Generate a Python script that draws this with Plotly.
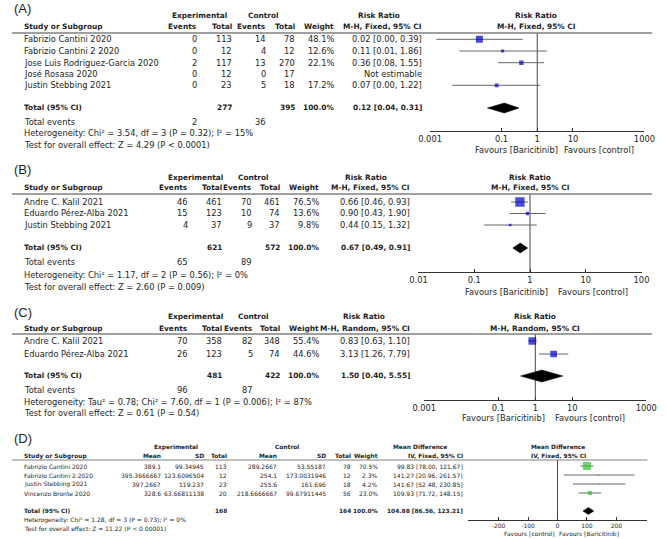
import plotly.graph_objects as go

W, H = 667, 539

# ---------------- DATA ----------------
# (A) Risk ratio, M-H fixed
A_STUDY = ["Fabrizio Cantini 2020", "Fabrizio Cantini 2 2020", "Jose Luis Rodriguez-Garcia 2020",
           "José Rosasa 2020", "Justin Stebbing 2021"]
A_EXP_EV = [0, 0, 2, 0, 0]
A_EXP_N = [113, 12, 117, 12, 23]
A_CTL_EV = [14, 4, 13, 0, 5]
A_CTL_N = [78, 12, 270, 17, 18]
A_WEIGHT = [48.1, 12.6, 22.1, None, 17.2]
A_EST = [0.024, 0.107, 0.36, None, 0.073]
A_LO = [0.0015, 0.0066, 0.08, None, 0.0042]
A_HI = [0.39, 1.86, 1.55, None, 1.22]
A_TOTAL = dict(exp_n=277, ctl_n=395, exp_ev=2, ctl_ev=36, est=0.12, lo=0.04, hi=0.31)
A_HET = "Heterogeneity: Chi² = 3.54, df = 3 (P = 0.32); I² = 15%"
A_TEST = "Test for overall effect: Z = 4.29 (P < 0.0001)"
A_TICKS = [0.001, 0.1, 1, 10, 1000]
A_TICKTEXT = ["0.001", "0.1", "1", "10", "1000"]

# (B) Risk ratio, M-H fixed
B_STUDY = ["Andre C. Kalil 2021", "Eduardo Pérez-Alba 2021", "Justin Stebbing 2021"]
B_EXP_EV = [46, 15, 4]
B_EXP_N = [461, 123, 37]
B_CTL_EV = [70, 10, 9]
B_CTL_N = [461, 74, 37]
B_WEIGHT = [76.5, 13.6, 9.8]
B_EST = [0.66, 0.90, 0.44]
B_LO = [0.46, 0.43, 0.15]
B_HI = [0.93, 1.90, 1.32]
B_TOTAL = dict(exp_n=621, ctl_n=572, exp_ev=65, ctl_ev=89, est=0.67, lo=0.49, hi=0.91)
B_HET = "Heterogeneity: Chi² = 1.17, df = 2 (P = 0.56); I² = 0%"
B_TEST = "Test for overall effect: Z = 2.60 (P = 0.009)"
B_TICKS = [0.01, 0.1, 1, 10, 100]
B_TICKTEXT = ["0.01", "0.1", "1", "10", "100"]

# (C) Risk ratio, M-H random
C_STUDY = ["Andre C. Kalil 2021", "Eduardo Pérez-Alba 2021"]
C_EXP_EV = [70, 26]
C_EXP_N = [358, 123]
C_CTL_EV = [82, 5]
C_CTL_N = [348, 74]
C_WEIGHT = [55.4, 44.6]
C_EST = [0.83, 3.13]
C_LO = [0.63, 1.26]
C_HI = [1.10, 7.79]
C_TOTAL = dict(exp_n=481, ctl_n=422, exp_ev=96, ctl_ev=87, est=1.50, lo=0.40, hi=5.55)
C_HET = "Heterogeneity: Tau² = 0.78; Chi² = 7.60, df = 1 (P = 0.006); I² = 87%"
C_TEST = "Test for overall effect: Z = 0.61 (P = 0.54)"
C_TICKS = [0.001, 0.1, 1, 10, 1000]
C_TICKTEXT = ["0.001", "0.1", "1", "10", "1000"]

# (D) Mean difference, IV fixed
D_STUDY = ["Fabrizio Cantini 2020", "Fabrizio Cantini 2 2020", "Justin Stebbing 2021", "Vincenzo Bronte 2020"]
D_EXP_MEAN = [389.1, 395.3666667, 397.2667, 328.6]
D_EXP_SD = [99.34945, 123.6096504, 119.237, 63.66811138]
D_EXP_N = [113, 12, 23, 20]
D_CTL_MEAN = [289.2667, 254.1, 255.6, 218.6666667]
D_CTL_SD = [53.55187, 173.0031946, 161.696, 99.67911445]
D_CTL_N = [78, 12, 18, 56]
D_WEIGHT = [70.5, 2.3, 4.2, 23.0]
D_EST = [99.83, 141.27, 141.67, 109.93]
D_LO = [78.00, 20.96, 52.48, 71.72]
D_HI = [121.67, 261.57, 230.85, 148.15]
D_TOTAL = dict(exp_n=168, ctl_n=164, est=104.88, lo=86.56, hi=123.21)
D_HET = "Heterogeneity: Chi² = 1.28, df = 3 (P = 0.73); I² = 0%"
D_TEST = "Test for overall effect: Z = 11.22 (P < 0.00001)"
D_TICKS = [-200, -100, 0, 100, 200]
D_TICKTEXT = ["-200", "-100", "0", "100", "200"]

# ---------------- STYLE / LAYOUT ----------------
FONT = "DejaVu Sans"
LABFONT = "Liberation Sans"
TXT = "#1e1e1e"
BLUE = "#0000cc"
GREEN = "#2cc42c"
CIGRAY = "#666666"
REF = "#444444"
FS = 8.3      # regular text, panels A-C
FSB = 7.4     # bold text, panels A-C
FD = 6.0      # regular text, panel D
FDB = 5.9     # bold text, panel D

annotations, shapes, traces = [], [], []


def T(x, y, s, anchor="left", size=FS, bold=False, family=FONT, color=TXT):
    if bold:
        s = f"<b>{s}</b>"
    annotations.append(dict(x=x / W, y=1 - y / H, xref="paper", yref="paper", text=s,
                            showarrow=False, xanchor=anchor, yanchor="middle",
                            borderpad=0, borderwidth=0,
                            font=dict(family=family, size=size, color=color)))


def hline(y, x0, x1, color="#808080", width=1.3):
    shapes.append(dict(type="line", xref="paper", yref="paper", x0=x0 / W, x1=x1 / W,
                       y0=1 - y / H, y1=1 - y / H, line=dict(color=color, width=width)))


def forest(ax, ys, est, lo, hi, wt, tot, ytot, dh, color, ref, yline, yaxis_pos, sfac):
    cx, cy = [], []
    mx, my, ms = [], [], []
    for y, e, l, h, w in zip(ys, est, lo, hi, wt):
        if e is None:
            continue
        cx += [l, h, None]
        cy += [y, y, None]
        mx.append(e)
        my.append(y)
        ms.append(max(1.4, sfac * w ** 0.6))
    traces.append(go.Scatter(x=[ref, ref], y=[yline, yaxis_pos], mode="lines", xaxis=ax, yaxis="y",
                             line=dict(color=REF, width=1), hoverinfo="skip"))
    traces.append(go.Scatter(x=cx, y=cy, mode="lines", xaxis=ax, yaxis="y",
                             line=dict(color=CIGRAY, width=1), hoverinfo="skip"))
    traces.append(go.Scatter(x=mx, y=my, mode="markers", xaxis=ax, yaxis="y",
                             marker=dict(symbol="square", size=ms, color=color, line=dict(width=0))))
    traces.append(go.Scatter(x=[tot["lo"], tot["est"], tot["hi"], tot["est"], tot["lo"]],
                             y=[ytot, ytot - dh, ytot, ytot + dh, ytot], mode="lines", fill="toself",
                             fillcolor="black", line=dict(color="black", width=0.5),
                             xaxis=ax, yaxis="y", hoverinfo="skip"))


def xaxis(dom, rng, typ, tv, tt, ypos, fs):
    return dict(domain=[dom[0] / W, dom[1] / W], range=rng, type=typ, anchor="free",
                position=1 - ypos / H, showgrid=False, zeroline=False, showline=True,
                linecolor="#333333", linewidth=1, ticks="inside", ticklen=3, tickcolor="#333333",
                tickvals=tv, ticktext=tt, tickfont=dict(family=FONT, size=fs, color=TXT),
                fixedrange=True)


def rr_panel(label, g, study, eev, en, cev, cn, wt, est, lo, hi, tot, het, test, method,
             ax, ticks, ticktext, rng):
    T(2, g["lab"], label, size=13, family=LABFONT)
    T(g["exp_c"], g["h1"], "Experimental", "center", size=FSB, bold=True)
    T(g["ctl_c"], g["h1"], "Control", "center", size=FSB, bold=True)
    T(g["rr_c"], g["h1"], "Risk Ratio", "center", size=FSB, bold=True)
    T(g["plot_c"], g["h1"], "Risk Ratio", "center", size=FSB, bold=True)
    T(12, g["h2"], "Study or Subgroup", size=FSB, bold=True)
    for x, s in zip(g["c"], ["Events", "Total", "Events", "Total", "Weight", method]):
        T(x, g["h2"], s, "right", size=FSB, bold=True)
    T(g["plot_c"], g["h2"], method, "center", size=FSB, bold=True)
    hline(g["line"], 0, 663)
    for i, y in enumerate(g["rows"]):
        T(12, y, study[i])
        T(g["c"][0], y, str(eev[i]), "right")
        T(g["c"][1], y, str(en[i]), "right")
        T(g["c"][2], y, str(cev[i]), "right")
        T(g["c"][3], y, str(cn[i]), "right")
        if wt[i] is not None:
            T(g["c"][4], y, f"{wt[i]:.1f}%", "right")
            T(g["c"][5], y, f"{est[i]:.2f} [{lo[i]:.2f}, {hi[i]:.2f}]", "right")
        else:
            T(g["c"][5], y, "Not estimable", "right")
    yt = g["tot"]
    T(12, yt, "Total (95% CI)", size=FSB, bold=True)
    T(g["c"][1], yt, str(tot["exp_n"]), "right", size=FSB, bold=True)
    T(g["c"][3], yt, str(tot["ctl_n"]), "right", size=FSB, bold=True)
    T(g["c"][4], yt, "100.0%", "right", size=FSB, bold=True)
    T(g["c"][5], yt, f"{tot['est']:.2f} [{tot['lo']:.2f}, {tot['hi']:.2f}]", "right", size=FSB, bold=True)
    T(12, g["tev"], "Total events")
    T(g["c"][0], g["tev"], str(tot["exp_ev"]), "right")
    T(g["c"][2], g["tev"], str(tot["ctl_ev"]), "right")
    T(12, g["het"], het)
    T(12, g["test"], test)
    T(g["fav"][1], g["fav"][0], "Favours [Baricitinib]", "right")
    T(g["fav"][2], g["fav"][0], "Favours [control]", "left")
    forest(ax, g["rows"], est, lo, hi, wt, tot, g["tot"] + 1, g["dh"], BLUE, 1, g["line"], g["axis"], 0.69)
    return xaxis(g["dom"], rng, "log", ticks, ticktext, g["axis"], FS)


GA = dict(lab=8, h1=15, h2=27, line=33, rows=[39.3, 51, 62.7, 74, 85.3], tot=107, tev=122, het=133,
          test=145, c=[192, 228, 263, 293, 333, 425], exp_c=194, ctl_c=260, rr_c=380, plot_c=543,
          axis=131, fav=(150, 566, 572), dom=(433, 655), dh=5)
GB = dict(lab=170, h1=177, h2=188, line=194, rows=[202, 213.5, 225], tot=247, tev=262, het=275,
          test=287, c=[182, 217, 249, 278, 318, 412], exp_c=190, ctl_c=250, rr_c=367, plot_c=537,
          axis=272, fav=(292, 555, 565), dom=(421, 652), dh=5)
GC = dict(lab=312, h1=316, h2=328, line=334, rows=[341, 354], tot=375, tev=390, het=402,
          test=413, c=[182, 217, 250, 278, 318, 412], exp_c=190, ctl_c=250, rr_c=365, plot_c=542,
          axis=400, fav=(418, 552, 562), dom=(427, 657), dh=6)

xa = rr_panel("(A)", GA, A_STUDY, A_EXP_EV, A_EXP_N, A_CTL_EV, A_CTL_N, A_WEIGHT, A_EST, A_LO, A_HI,
              A_TOTAL, A_HET, A_TEST, "M-H, Fixed, 95% CI", "x", A_TICKS, A_TICKTEXT, [-3, 3])
xb = rr_panel("(B)", GB, B_STUDY, B_EXP_EV, B_EXP_N, B_CTL_EV, B_CTL_N, B_WEIGHT, B_EST, B_LO, B_HI,
              B_TOTAL, B_HET, B_TEST, "M-H, Fixed, 95% CI", "x2", B_TICKS, B_TICKTEXT, [-2, 2])
xc = rr_panel("(C)", GC, C_STUDY, C_EXP_EV, C_EXP_N, C_CTL_EV, C_CTL_N, C_WEIGHT, C_EST, C_LO, C_HI,
              C_TOTAL, C_HET, C_TEST, "M-H, Random, 95% CI", "x3", C_TICKS, C_TICKTEXT, [-3, 3])

# ---- Panel D ----
GD = dict(lab=438, h1=447, h2=456, line=460, rows=[466, 475, 484, 493], tot=511, het=520, test=528,
          c=[154.5, 199, 223, 274, 325, 351, 379, 467], axis=520, dom=(472, 658))
T(2, GD["lab"], "(D)", size=13, family=LABFONT)
T(170, GD["h1"], "Experimental", "center", size=FDB, bold=True)
T(285, GD["h1"], "Control", "center", size=FDB, bold=True)
T(423, GD["h1"], "Mean Difference", "center", size=FDB, bold=True)
T(566, GD["h1"], "Mean Difference", "center", size=FDB, bold=True)
T(12, GD["h2"], "Study or Subgroup", size=FDB, bold=True)
for x, s in zip(GD["c"], ["Mean", "SD", "Total", "Mean", "SD", "Total", "Weight", "IV, Fixed, 95% CI"]):
    T(x, GD["h2"], s, "right", size=FDB, bold=True)
T(566, GD["h2"], "IV, Fixed, 95% CI", "center", size=FDB, bold=True)
hline(GD["line"], 0, 658, width=1)
for i, y in enumerate(GD["rows"]):
    T(12, y, D_STUDY[i], size=FD)
    vals = [str(D_EXP_MEAN[i]), str(D_EXP_SD[i]), str(D_EXP_N[i]), str(D_CTL_MEAN[i]),
            str(D_CTL_SD[i]), str(D_CTL_N[i]), f"{D_WEIGHT[i]:.1f}%",
            f"{D_EST[i]:.2f} [{D_LO[i]:.2f}, {D_HI[i]:.2f}]"]
    for x, s in zip(GD["c"], vals):
        T(x, y, s, "right", size=FD)
T(12, GD["tot"], "Total (95% CI)", size=FDB, bold=True)
T(GD["c"][2], GD["tot"], str(D_TOTAL["exp_n"]), "right", size=FDB, bold=True)
T(GD["c"][5], GD["tot"], str(D_TOTAL["ctl_n"]), "right", size=FDB, bold=True)
T(GD["c"][6], GD["tot"], "100.0%", "right", size=FDB, bold=True)
T(GD["c"][7], GD["tot"], f"{D_TOTAL['est']:.2f} [{D_TOTAL['lo']:.2f}, {D_TOTAL['hi']:.2f}]", "right",
  size=FDB, bold=True)
T(12, GD["het"], D_HET, size=FD)
T(12, GD["test"], D_TEST, size=FD)
T(562, 533, "Favours [control]", "right", size=FD)
T(567, 533, "Favours [Baricitinib]", "left", size=FD)
forest("x4", GD["rows"], D_EST, D_LO, D_HI, D_WEIGHT, D_TOTAL, GD["tot"], 3.5, GREEN, 0,
       GD["line"], GD["axis"], 0.62)
xd = xaxis(GD["dom"], [-305, 305], "linear", D_TICKS, D_TICKTEXT, GD["axis"], FD)

fig = go.Figure(traces)
fig.update_layout(
    width=W, height=H, margin=dict(l=0, r=0, t=0, b=0), showlegend=False,
    paper_bgcolor="white", plot_bgcolor="rgba(0,0,0,0)",
    xaxis=xa, xaxis2=xb, xaxis3=xc, xaxis4=xd,
    yaxis=dict(range=[H, 0], domain=[0, 1], visible=False, fixedrange=True),
    annotations=annotations, shapes=shapes,
)
fig.write_html("out.html", config={"displayModeBar": False},
               post_script="document.body.style.margin='0';document.body.style.overflow='hidden';")
